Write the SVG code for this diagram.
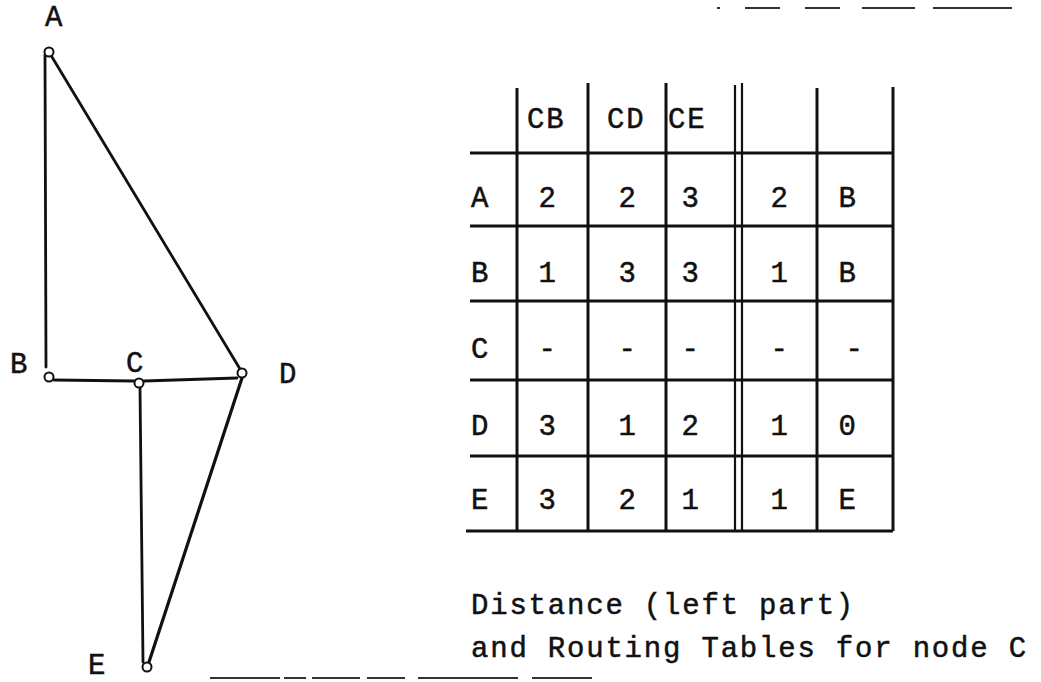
<svg xmlns="http://www.w3.org/2000/svg" width="1041" height="682" viewBox="0 0 1041 682">
<style>
  .t { font-family: "Liberation Mono", "DejaVu Sans Mono", monospace; font-size: 29px; fill: #111; stroke: #111; stroke-width: 0.5; letter-spacing: 1.8px; }
  .m { text-anchor: middle; }
  .edge { stroke: #111; stroke-width: 2.8; fill: none; stroke-linecap: round; }
  .node circle { fill: #fff; stroke: #111; stroke-width: 2; }
  .grid line { stroke: #111; stroke-width: 3; }
  .grid line.thin { stroke-width: 2.2; }
  .marks { stroke: #333; stroke-width: 2; fill: none; }
</style>
<rect width="1041" height="682" fill="#fff"/>

<g id="connectors">
  <line class="edge" x1="45" y1="55" x2="46" y2="367"/>
  <line class="edge" x1="52" y1="57" x2="240" y2="369"/>
  <line class="edge" x1="54" y1="380" x2="134" y2="381"/>
  <line class="edge" x1="144" y1="381" x2="237" y2="378"/>
  <line class="edge" x1="140" y1="388" x2="143" y2="662"/>
  <line class="edge" x1="242" y1="378" x2="149" y2="662" style="stroke-width:3.2"/>
</g>

<g id="node-A" class="node">
  <circle cx="49" cy="52" r="4.5"/>
  <text class="t" x="45" y="26">A</text>
</g>
<g id="node-B" class="node">
  <circle cx="49" cy="377" r="4.5"/>
  <text class="t" x="10" y="373">B</text>
</g>
<g id="node-C" class="node">
  <circle cx="139" cy="383" r="4.5"/>
  <text class="t" x="126" y="372">C</text>
</g>
<g id="node-D" class="node">
  <circle cx="242" cy="373" r="4.5"/>
  <text class="t" x="279" y="383">D</text>
</g>
<g id="node-E" class="node">
  <circle cx="147" cy="667" r="4.5"/>
  <text class="t" x="88" y="674">E</text>
</g>

<g id="table">
  <g class="grid">
    <line x1="517" y1="88" x2="517" y2="531"/>
    <line x1="588" y1="83" x2="588" y2="531"/>
    <line x1="666" y1="83" x2="666" y2="531"/>
    <line class="thin" x1="735" y1="85" x2="735" y2="531"/>
    <line class="thin" x1="742" y1="83" x2="742" y2="531"/>
    <line x1="817" y1="88" x2="817" y2="531"/>
    <line x1="893" y1="87" x2="893" y2="531"/>
    <line x1="470" y1="153" x2="893" y2="153"/>
    <line x1="470" y1="226" x2="893" y2="226"/>
    <line x1="470" y1="301" x2="893" y2="301"/>
    <line x1="470" y1="380" x2="893" y2="380"/>
    <line x1="470" y1="456" x2="893" y2="456"/>
    <line x1="466" y1="531" x2="893" y2="531"/>
  </g>
  <g id="header">
    <text class="t" x="527" y="128">CB</text>
    <text class="t" x="607" y="128">CD</text>
    <text class="t" x="668" y="128">CE</text>
  </g>
  <g id="row-A">
    <text class="t" x="471" y="207">A</text>
    <text class="t m" x="548" y="207">2</text>
    <text class="t m" x="628" y="207">2</text>
    <text class="t m" x="691" y="207">3</text>
    <text class="t m" x="780" y="207">2</text>
    <text class="t m" x="848" y="207">B</text>
  </g>
  <g id="row-B">
    <text class="t" x="471" y="282">B</text>
    <text class="t m" x="548" y="282">1</text>
    <text class="t m" x="628" y="282">3</text>
    <text class="t m" x="691" y="282">3</text>
    <text class="t m" x="780" y="282">1</text>
    <text class="t m" x="848" y="282">B</text>
  </g>
  <g id="row-C">
    <text class="t" x="471" y="358">C</text>
    <text class="t m" x="548" y="358">-</text>
    <text class="t m" x="628" y="358">-</text>
    <text class="t m" x="691" y="358">-</text>
    <text class="t m" x="780" y="358">-</text>
    <text class="t m" x="855" y="358">-</text>
  </g>
  <g id="row-D">
    <text class="t" x="471" y="435">D</text>
    <text class="t m" x="548" y="435">3</text>
    <text class="t m" x="628" y="435">1</text>
    <text class="t m" x="691" y="435">2</text>
    <text class="t m" x="780" y="435">1</text>
    <text class="t m" x="848" y="435">0</text>
  </g>
  <g id="row-E">
    <text class="t" x="471" y="509">E</text>
    <text class="t m" x="548" y="509">3</text>
    <text class="t m" x="628" y="509">2</text>
    <text class="t m" x="691" y="509">1</text>
    <text class="t m" x="780" y="509">1</text>
    <text class="t m" x="848" y="509">E</text>
  </g>
</g>

<g id="caption">
  <text class="t" x="471" y="614">Distance (left part)</text>
  <text class="t" x="471" y="657">and Routing Tables for node C</text>
</g>

<g id="scan-marks" class="marks">
  <path d="M717 8h3M745 8h35M805 8h35M862 8h53M933 8h79"/>
  <path d="M210 678h70M284 678h22M312 678h48M367 678h38M418 678h100M532 678h60"/>
</g>
</svg>
